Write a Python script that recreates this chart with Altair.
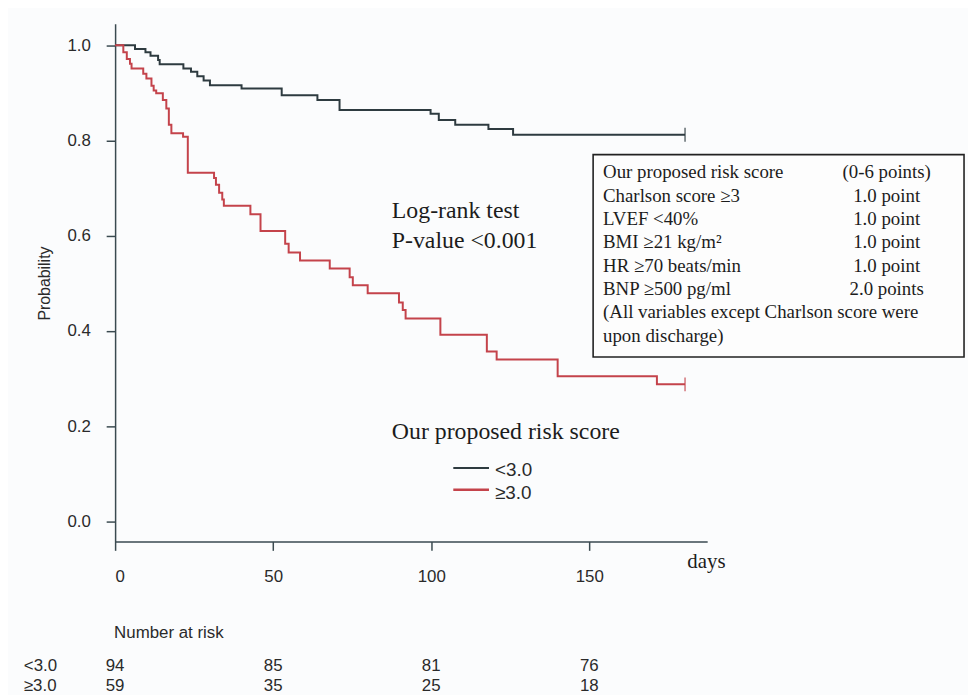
import altair as alt
import pandas as pd

# ---- data ----
groups = ["<3.0", "≥3.0"]
black_days = [0, 6.3, 9.6, 11.2, 13.6, 14.1, 21.6, 24.0, 26.0, 28.0, 30.0, 40.0, 52.7, 64.0, 71.0,
              99.8, 102.4, 107.6, 118.1, 125.9, 180.3]
black_surv = [1.0, 0.992, 0.985, 0.978, 0.969, 0.960, 0.951, 0.944, 0.935, 0.926, 0.916, 0.909, 0.895,
              0.885, 0.864, 0.856, 0.843, 0.833, 0.824, 0.812, 0.812]
red_days = [0, 2.6, 3.7, 4.7, 5.2, 8.9, 9.9, 11.5, 12.2, 13.0, 15.1, 16.2, 17.0, 17.8, 21.5, 23.0,
            31.3, 31.9, 32.9, 33.9, 34.4, 42.8, 46.0, 53.8, 54.9, 58.5, 67.9, 74.2, 75.2, 79.9, 89.8,
            91.0, 91.9, 102.9, 117.6, 120.7, 140.0, 171.4, 180.3]
red_surv = [1.0, 0.985, 0.971, 0.961, 0.951, 0.940, 0.930, 0.915, 0.905, 0.899, 0.885, 0.867, 0.833,
            0.815, 0.808, 0.732, 0.721, 0.707, 0.690, 0.676, 0.663, 0.645, 0.610, 0.583, 0.565, 0.548,
            0.531, 0.513, 0.496, 0.479, 0.460, 0.444, 0.426, 0.392, 0.357, 0.340, 0.305, 0.288, 0.288]
censor_days = [180.3, 180.3]
censor_surv = [0.812, 0.288]

x_ticks = [0, 50, 100, 150]
y_ticks = [0.0, 0.2, 0.4, 0.6, 0.8, 1.0]
risk_times = [0, 50, 100, 150]
risk_low = [94, 85, 81, 76]
risk_high = [59, 35, 25, 18]

box_left = ["Our proposed risk score", "Charlson score ≥3", "LVEF <40%", "BMI ≥21 kg/m²",
            "HR ≥70 beats/min", "BNP ≥500 pg/ml", "(All variables except Charlson score were",
            "upon discharge)"]
box_right = ["(0-6 points)", "1.0 point", "1.0 point", "1.0 point", "1.0 point", "2.0 points", "", ""]

BLACK = "#2e3b40"
RED = "#c4434b"
SERIF = "Liberation Serif"
SANS = "Liberation Sans"
TXT = "#1c1c1c"

W, H = 597, 522

curves = pd.concat([
    pd.DataFrame({"day": black_days, "surv": black_surv, "grp": groups[0]}),
    pd.DataFrame({"day": red_days, "surv": red_surv, "grp": groups[1]}),
])
censors = pd.DataFrame({"day": censor_days, "surv": censor_surv, "grp": groups})

xenc = alt.X("day:Q", scale=alt.Scale(domain=[0, 187.3], nice=False, zero=False),
             axis=alt.Axis(values=x_ticks, title=None, labelPadding=18, format="d"))
yenc = alt.Y("surv:Q", scale=alt.Scale(domain=[-0.0417, 1.045], nice=False, zero=False),
             axis=alt.Axis(values=y_ticks, title=None, format=".1f", labelPadding=16))
cenc = alt.Color("grp:N", scale=alt.Scale(domain=groups, range=[BLACK, RED]), legend=None)

lines = alt.Chart(curves).mark_line(interpolate="step-after", strokeWidth=2).encode(
    x=xenc, y=yenc, color=cenc, detail="grp:N")
ticks = alt.Chart(censors).mark_tick(orient="vertical", size=14, thickness=1.6).encode(
    x="day:Q", y="surv:Q", color=cenc)

one = pd.DataFrame({"k": [0]})


def label(text, x, y, font=SERIF, size=19, align="left", baseline="alphabetic", angle=0, color=TXT):
    return alt.Chart(one).mark_text(
        text=text, font=font, fontSize=size, align=align, baseline=baseline, angle=angle, color=color
    ).encode(x=alt.value(x), y=alt.value(y))


layers = [lines, ticks]

# annotation box
layers.append(alt.Chart(one).mark_rect(fill="#fdfdfd", stroke="#222222", strokeWidth=1.6).encode(
    x=alt.value(482), x2=alt.value(856), y=alt.value(132), y2=alt.value(336)))
for i, (a, b) in enumerate(zip(box_left, box_right)):
    yy = 156 + i * 23.5
    layers.append(label(a, 492, yy, size=19))
    if b:
        layers.append(label(b, 778, yy, size=19, align="center"))

# log-rank
layers.append(label("Log-rank test", 279, 195.7, size=24))
layers.append(label("P-value <0.001", 279, 225.7, size=24))

# legend
layers.append(label("Our proposed risk score", 279, 419, size=24))
layers.append(alt.Chart(one).mark_rule(color=BLACK, strokeWidth=2).encode(
    x=alt.value(341), x2=alt.value(377), y=alt.value(448)))
layers.append(alt.Chart(one).mark_rule(color=RED, strokeWidth=2.5).encode(
    x=alt.value(341), x2=alt.value(377), y=alt.value(470)))
layers.append(label(groups[0], 383, 450, font=SANS, size=19, baseline="middle", color="#2a2a2a"))
layers.append(label(groups[1], 383, 473, font=SANS, size=19, baseline="middle", color="#2a2a2a"))

# axis titles
layers.append(label("Probability", -71, 262, font=SANS, size=16, align="center",
                    baseline="middle", angle=270, color="#2a2a2a"))
layers.append(label("days", 577, 549, size=21))

# number at risk table
layers.append(label("Number at risk", -1, 619, font=SANS, size=17, color="#2a2a2a"))
layers.append(label(groups[0], -92, 648, font=SANS, size=17, baseline="middle", color="#2a2a2a"))
layers.append(label(groups[1], -92, 668, font=SANS, size=17, baseline="middle", color="#2a2a2a"))
risk = pd.DataFrame({"day": risk_times, "low": risk_low, "high": risk_high})
layers.append(alt.Chart(risk).mark_text(font=SANS, fontSize=17, color="#2a2a2a", baseline="middle").encode(
    x="day:Q", y=alt.value(648), text="low:Q"))
layers.append(alt.Chart(risk).mark_text(font=SANS, fontSize=17, color="#2a2a2a", baseline="middle").encode(
    x="day:Q", y=alt.value(668), text="high:Q"))

chart = alt.layer(*layers).properties(
    width=W, height=H,
    autosize=alt.AutoSizeParams(type="none"),
    padding={"left": 108, "top": 13, "right": 263, "bottom": 152},
    background="#fbfcfd",
).configure_view(stroke=None).configure_axis(
    grid=False, labelFont=SANS, labelFontSize=17, labelColor="#2a2a2a",
    domainColor="#3a4a50", domainWidth=1.5, tickColor="#3a4a50", tickWidth=1.5, tickSize=9,
)

chart.save("out.html", embed_options={"renderer": "svg", "actions": False})
